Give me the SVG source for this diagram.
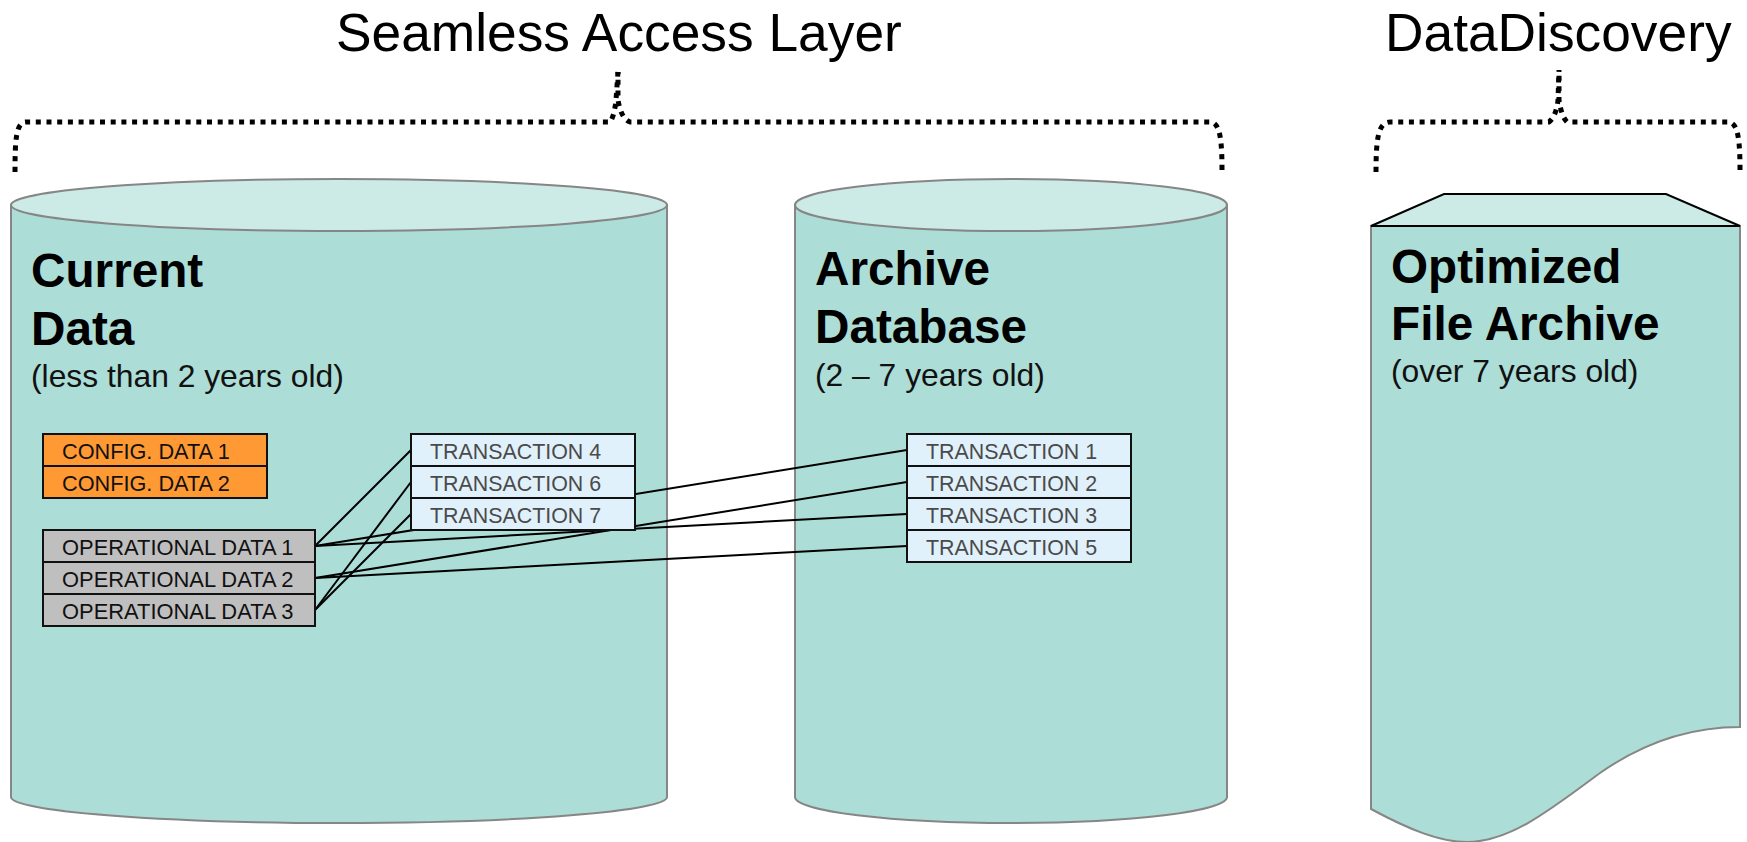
<svg xmlns="http://www.w3.org/2000/svg" width="1747" height="842" viewBox="0 0 1747 842">
<style>
text{font-family:"Liberation Sans",Arial,sans-serif}
.body{fill:#acddd7;stroke:#868686;stroke-width:2}
.lid{fill:#cceae6;stroke:#868686;stroke-width:2}
.title{font-size:53.300px;fill:#000}
.name{font-size:47.700px;font-weight:bold;fill:#000}
.sub{font-size:31.800px;fill:#111}
.row{stroke:#111;stroke-width:2}
.cfg{fill:#ff9933}.op{fill:#bfbfbf}.tx{fill:#e1f1fb}
.lbl{font-size:21.700px;fill:#111}
.lbl.wide{font-size:21.900px}
.txl{font-size:21.400px;fill:#4a4a4a}
.brace{fill:none;stroke:#000;stroke-width:5;stroke-dasharray:5 5.700}
.link{fill:none;stroke:#000;stroke-width:2}
</style>
<text class="title" x="336" y="51">Seamless Access Layer</text>
<text class="title" x="1385" y="51">DataDiscovery</text>
<g id="cylinder-current"><path class="body" d="M11 205V797C11 811 158 823 339 823S667 811 667 797V205Z"/><ellipse class="lid" cx="339" cy="205" rx="328" ry="26"/></g>
<g id="cylinder-archive"><path class="body" d="M795 205V797C795 811 890 823 1011 823S1227 811 1227 797V205Z"/><ellipse class="lid" cx="1011" cy="205" rx="216" ry="26"/></g>
<g id="document-archive"><path class="body" d="M1371 226H1740V727C1700 727 1650 738 1600 773C1550 810 1510 842 1467 842C1440 842 1410 830 1371 809Z"/><path d="M1371 226L1444 194H1666L1740 226Z" fill="#cceae6" stroke="#000" stroke-width="2"/></g>
<g id="braces">
<path class="brace" d="M15 172C15 140 16 122 26 122H610C613 118 615 110 616 100L618 72"/>
<path class="brace" d="M1222 170C1222 140 1220 122 1210 122H630C624 120 620 112 618 100L618 72"/>
<path class="brace" d="M1376 172C1376 140 1378 122 1390 122H1549C1554 118 1557 110 1558 100L1559 70"/>
<path class="brace" d="M1740 170C1740 140 1738 122 1728 122H1567C1563 118 1561 112 1559 100L1559 70"/>
</g>
<g id="connectors">
<path class="link" d="M315 546L411 450"/>
<path class="link" d="M315 610L411 482"/>
<path class="link" d="M315 610L411 514"/>
<path class="link" d="M315 546L907 450"/>
<path class="link" d="M315 546L907 514"/>
<path class="link" d="M315 578L907 482"/>
<path class="link" d="M315 578L907 546"/>
</g>
<g id="label-current"><text class="name" x="31" y="287">Current</text><text class="name" x="31" y="345">Data</text><text class="sub" x="31" y="387">(less than 2 years old)</text></g>
<g id="label-archive"><text class="name" x="815" y="285">Archive</text><text class="name" x="815" y="343">Database</text><text class="sub" x="815" y="386">(2 – 7 years old)</text></g>
<g id="label-document"><text class="name" x="1391" y="283">Optimized</text><text class="name" x="1391" y="340">File Archive</text><text class="sub" x="1391" y="382">(over 7 years old)</text></g>
<g id="config-1"><rect class="row cfg" x="43" y="434" width="224" height="32"/><text class="lbl" x="62" y="458.500">CONFIG. DATA 1</text></g>
<g id="config-2"><rect class="row cfg" x="43" y="466" width="224" height="32"/><text class="lbl" x="62" y="490.500">CONFIG. DATA 2</text></g>
<g id="op-1"><rect class="row op" x="43" y="530" width="272" height="32"/><text class="lbl wide" x="62" y="554.500">OPERATIONAL DATA 1</text></g>
<g id="op-2"><rect class="row op" x="43" y="562" width="272" height="32"/><text class="lbl wide" x="62" y="586.500">OPERATIONAL DATA 2</text></g>
<g id="op-3"><rect class="row op" x="43" y="594" width="272" height="32"/><text class="lbl wide" x="62" y="618.500">OPERATIONAL DATA 3</text></g>
<g id="tx-4"><rect class="row tx" x="411" y="434" width="224" height="32"/><text class="txl" x="430" y="458.500">TRANSACTION 4</text></g>
<g id="tx-6"><rect class="row tx" x="411" y="466" width="224" height="32"/><text class="txl" x="430" y="490.500">TRANSACTION 6</text></g>
<g id="tx-7"><rect class="row tx" x="411" y="498" width="224" height="32"/><text class="txl" x="430" y="522.500">TRANSACTION 7</text></g>
<g id="tx-1"><rect class="row tx" x="907" y="434" width="224" height="32"/><text class="txl" x="926" y="458.500">TRANSACTION 1</text></g>
<g id="tx-2"><rect class="row tx" x="907" y="466" width="224" height="32"/><text class="txl" x="926" y="490.500">TRANSACTION 2</text></g>
<g id="tx-3"><rect class="row tx" x="907" y="498" width="224" height="32"/><text class="txl" x="926" y="522.500">TRANSACTION 3</text></g>
<g id="tx-5"><rect class="row tx" x="907" y="530" width="224" height="32"/><text class="txl" x="926" y="554.500">TRANSACTION 5</text></g>
</svg>
